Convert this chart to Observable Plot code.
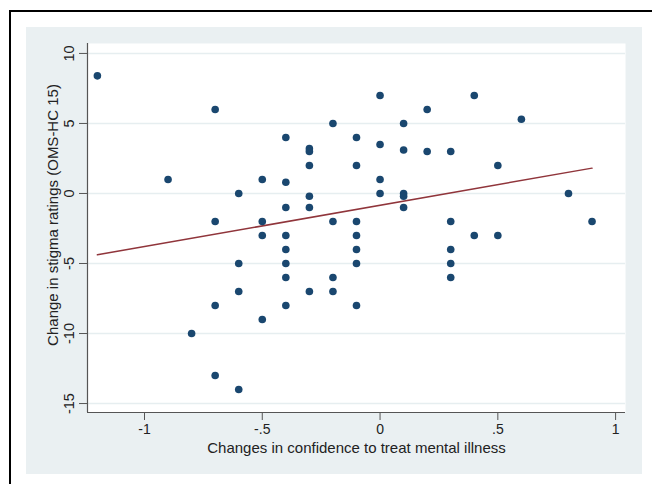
<!DOCTYPE html>
<html>
<head>
<meta charset="utf-8">
<script src="https://cdn.jsdelivr.net/npm/d3@7"></script>
<script src="https://cdn.jsdelivr.net/npm/@observablehq/plot@0.6"></script>
<style>
  html, body { margin: 0; padding: 0; background: #ffffff; }
  #wrap { position: relative; width: 652px; height: 484px; overflow: hidden; background: #ffffff; font-family: "Liberation Sans", Arial, sans-serif; }
  #border { position: absolute; left: 9px; top: 10px; width: 700px; height: 520px; border-left: 2.5px solid #000; border-top: 2.5px solid #000; box-sizing: border-box; }
  #panel { position: absolute; left: 26px; top: 27px; width: 616px; height: 447px; background: #eaf0f2; }
  #chart { position: absolute; left: 0; top: 0; }
</style>
</head>
<body>
<div id="wrap">
  <div id="border"></div>
  <div id="panel"></div>
  <div id="chart"></div>
</div>
<script>
// Changes in confidence to treat mental illness (x)
const confidence = [
  -1.2, -0.9, -0.8,
  -0.7, -0.7, -0.7, -0.7,
  -0.6, -0.6, -0.6, -0.6,
  -0.5, -0.5, -0.5, -0.5,
  -0.4, -0.4, -0.4, -0.4, -0.4, -0.4, -0.4, -0.4,
  -0.3, -0.3, -0.3, -0.3, -0.3, -0.3,
  -0.2, -0.2, -0.2, -0.2,
  -0.1, -0.1, -0.1, -0.1, -0.1, -0.1, -0.1,
  0.0, 0.0, 0.0, 0.0,
  0.1, 0.1, 0.1, 0.1, 0.1,
  0.2, 0.2,
  0.3, 0.3, 0.3, 0.3, 0.3,
  0.4, 0.4,
  0.5, 0.5,
  0.6, 0.8, 0.9
];
// Change in stigma ratings (OMS-HC 15) (y)
const stigma = [
  8.4, 1, -10,
  6, -2, -8, -13,
  0, -5, -7, -14,
  1, -2, -3, -9,
  4, 0.8, -1, -3, -4, -5, -6, -8,
  3.2, 3, 2, -0.2, -1, -7,
  5, -2, -6, -7,
  4, 2, -2, -3, -4, -5, -8,
  7, 3.5, 1, 0,
  5, 3.1, 0, -0.2, -1,
  6, 3,
  3, -2, -4, -5, -6,
  7, -3,
  2, -3,
  5.3, 0, -2
];
// Fitted values line
const fitX = [-1.2, 0.9];
const fitY = [-4.38, 1.81];

const xDomain = [-1.242, 1.042];
const yDomain = [-15.64, 10.71];
const xTicks = [-1, -0.5, 0, 0.5, 1];
const yTicks = [-15, -10, -5, 0, 5, 10];

const pts = confidence.map((c, i) => ({x: c, y: stigma[i]}));
const fit = fitX.map((c, i) => ({x: c, y: fitY[i]}));
const fmt = d => String(d).replace(/^(-?)0\./, "$1.");

const plot = Plot.plot({
  width: 652,
  height: 484,
  marginLeft: 87,
  marginRight: 27,
  marginTop: 43,
  marginBottom: 72,
  style: { background: "transparent", fontFamily: "Liberation Sans, Arial, sans-serif", fontSize: "14px", color: "#222" },
  x: { domain: xDomain },
  y: { domain: yDomain },
  marks: [
    Plot.frame({ fill: "#ffffff", stroke: "none" }),
    Plot.gridY(yTicks, { stroke: "#e6eef0", strokeOpacity: 1, strokeWidth: 1.5 }),
    Plot.ruleX([xDomain[0]], { stroke: "#555", strokeWidth: 1.2 }),
    Plot.ruleY([yDomain[0]], { stroke: "#555", strokeWidth: 1.2 }),
    Plot.axisY(yTicks, { tickFormat: fmt, tickSize: 8, tickRotate: -90, tickPadding: 6, stroke: "#555", fill: "#222", fontSize: 14.5, label: null }),
    Plot.axisX(xTicks, { tickFormat: fmt, tickSize: 8, tickPadding: 4, stroke: "#555", fill: "#222", fontSize: 14, label: null }),
    Plot.line(fit, { x: "x", y: "y", stroke: "#90353b", strokeWidth: 1.5 }),
    Plot.dot(pts, { x: "x", y: "y", r: 3.8, fill: "#1a476f", stroke: "none" }),
    Plot.text(["Changes in confidence to treat mental illness"], { frameAnchor: "bottom", lineAnchor: "middle", dy: 36, fontSize: 15, fill: "#222" }),
    Plot.text(["Change in stigma ratings (OMS-HC 15)"], { frameAnchor: "left", textAnchor: "middle", dx: -34, dy: -13, rotate: -90, fontSize: 15, fill: "#222" })
  ]
});
document.getElementById("chart").appendChild(plot);
</script>
</body>
</html>
